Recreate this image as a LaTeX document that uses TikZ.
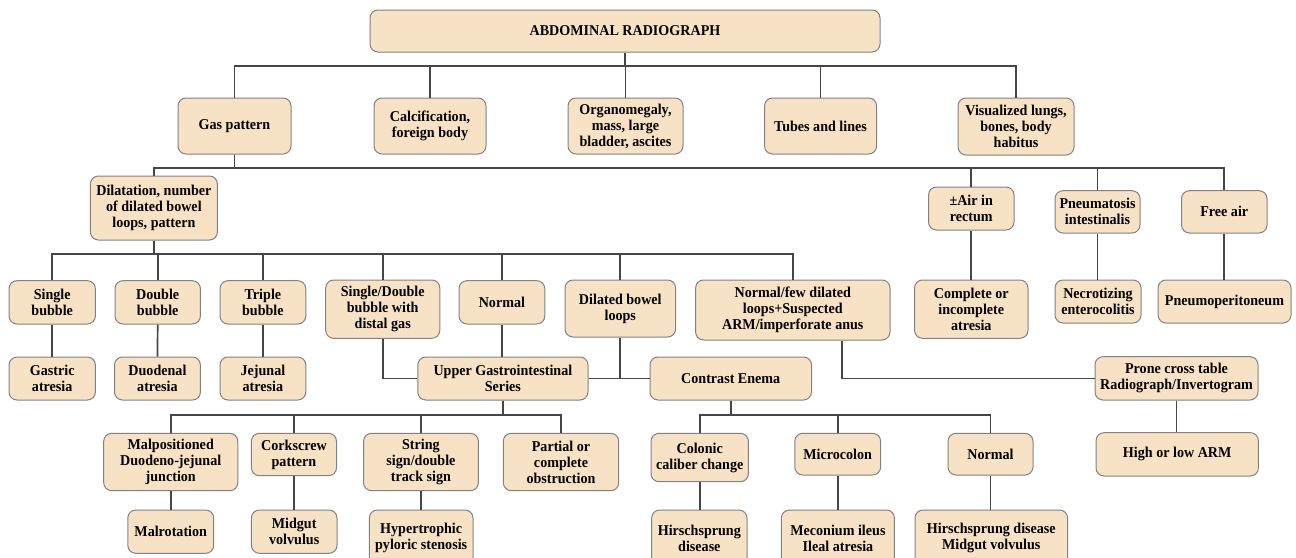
\documentclass[tikz,border=0pt]{standalone}
\usepackage{fontspec}
\setmainfont[FakeStretch=0.94]{Liberation Serif}
\definecolor{boxfill}{RGB}{248,226,198}
\definecolor{boxline}{RGB}{130,130,130}
\definecolor{conn}{RGB}{70,70,70}
\tikzset{
  box/.style={draw=boxline, fill=boxfill, rounded corners=8pt, align=center,
    inner sep=0pt, line width=1pt, font=\fontsize{15}{16}\selectfont\bfseries},
  link/.style={draw=conn, line width=1.7pt}
}
\newcommand{\mybox}[6]{%
  \node[box, minimum width={#3-#2}, minimum height={#5-#4}] (#1) at ({(#2+#3)/2},{(#4+#5)/2}) {#6};}
\begin{document}
\begin{tikzpicture}[x=1pt,y=-1pt]
\useasboundingbox (0,0) rectangle (1296,557);
\clip (0,0) rectangle (1296,557);
% bus levels
\coordinate (b1) at (0,66.3);
\coordinate (b2) at (0,168);
\coordinate (b3) at (0,254);
\coordinate (b5) at (0,414.7);
% level 0/1
\mybox{root}{370}{880}{10}{52}{ABDOMINAL RADIOGRAPH}
\mybox{gas}{178}{291}{98}{154}{Gas pattern}
\mybox{calc}{374}{486}{98}{154}{Calcification,\\foreign body}
\mybox{organ}{568}{683}{98}{154}{Organomegaly,\\mass, large\\bladder, ascites}
\mybox{tubes}{764.5}{876.6}{98}{154}{Tubes and lines}
\mybox{vis}{958}{1074}{98}{155}{Visualized lungs,\\bones, body\\habitus}
% level 2
\mybox{dil}{90.4}{217.4}{176}{240}{Dilatation, number\\of dilated bowel\\loops, pattern}
\mybox{air}{928.5}{1014}{187}{230}{±Air in\\rectum}
\mybox{pneu}{1055}{1140}{190.7}{233}{Pneumatosis\\intestinalis}
\mybox{free}{1181.5}{1267}{190.7}{233}{Free air}
% level 3
\mybox{single}{9}{95.4}{280.7}{324}{Single\\bubble}
\mybox{double}{115}{200.4}{280.7}{324}{Double\\bubble}
\mybox{triple}{220}{305.8}{280.7}{324}{Triple\\bubble}
\mybox{sdb}{325.7}{439.8}{280}{338.3}{Single/Double\\bubble with\\distal gas}
\mybox{normalA}{459}{544.8}{280.7}{324}{Normal}
\mybox{dbl}{565}{675.6}{280}{337}{Dilated bowel\\loops}
\mybox{nfd}{695.6}{890}{280}{340}{Normal/few dilated\\loops+Suspected\\ARM/imperforate anus}
\mybox{cia}{914.5}{1028}{280}{338.3}{Complete or\\incomplete\\atresia}
\mybox{nec}{1055}{1141}{280}{323}{Necrotizing\\enterocolitis}
\mybox{pneumop}{1158}{1291}{280}{323}{Pneumoperitoneum}
% level 4
\mybox{gastric}{9}{95.4}{357}{400}{Gastric\\atresia}
\mybox{duodenal}{114.5}{200.4}{357}{400}{Duodenal\\atresia}
\mybox{jejunal}{220}{305.8}{357}{400}{Jejunal\\atresia}
\mybox{ugi}{417.8}{588}{357}{400}{Upper Gastrointestinal\\Series}
\mybox{ce}{650}{811.5}{357}{400}{Contrast Enema}
\mybox{prone}{1095}{1258}{356.7}{400}{Prone cross table\\Radiograph/Invertogram}
% level 5
\mybox{mdj}{103.7}{237.8}{433.3}{490.7}{Malpositioned\\Duodeno-jejunal\\junction}
\mybox{cork}{251.4}{336.5}{433.3}{475.7}{Corkscrew\\pattern}
\mybox{string}{363.5}{478.4}{433.3}{490.7}{String\\sign/double\\track sign}
\mybox{partial}{503.3}{618.7}{433.3}{490.7}{Partial or\\complete\\obstruction}
\mybox{colonic}{651}{748.4}{433.3}{481.7}{Colonic\\caliber change}
\mybox{micro}{794.8}{880.6}{433.3}{475}{Microcolon}
\mybox{normalB}{948}{1033}{433.3}{475}{Normal}
\mybox{high}{1096}{1258.4}{432.7}{476}{High or low ARM}
% level 6
\mybox{malrot}{127.8}{213.7}{510}{553.3}{Malrotation}
\mybox{midgut}{251.4}{337}{510}{553.3}{Midgut\\volvulus}
\mybox{hps}{369.3}{473}{510}{566}{Hypertrophic\\pyloric stenosis}
\mybox{hirsch}{651.7}{747}{510}{566}{Hirschsprung\\disease}
\mybox{mec}{781.4}{894.4}{510}{566}{Meconium ileus\\Ileal atresia}
\mybox{hmv}{915}{1067.6}{510}{566}{Hirschsprung disease\\Midgut volvulus}
% connectors level 0 -> 1
\foreach \c in {gas,calc,organ,tubes,vis}
  \draw[link] (root.south) -- (root.south |- b1) -| (\c.north);
% gas -> level 2
\foreach \c in {dil,air,pneu,free}
  \draw[link] (gas.south) -- (gas.south |- b2) -| (\c.north);
% dil -> level 3
\foreach \c in {single,double,triple,sdb,normalA,dbl,nfd}
  \draw[link] (dil.south) -- (dil.south |- b3) -| (\c.north);
% vertical pairs
\draw[link] (single.south) -- (gastric.north);
\draw[link] (double.south) -- (duodenal.north);
\draw[link] (triple.south) -- (jejunal.north);
\draw[link] (air.south) -- (air.south |- cia.north);
\draw[link] (pneu.south) -- (pneu.south |- nec.north);
\draw[link] (free.south) -- (free.south |- pneumop.north);
% to UGI / CE / prone
\draw[link] (sdb.south) |- (ugi.west);
\draw[link] (normalA.south) -- (normalA.south |- ugi.north);
\draw[link] (ugi.east) -- (ce.west);
\draw[link] (dbl.south) -- (dbl.south |- ugi.east);
\coordinate (nfdout) at ([xshift=49]nfd.south);
\draw[link] (nfdout) |- (prone.west);
% UGI children
\foreach \c in {mdj,cork,string,partial}
  \draw[link] (ugi.south) -- (ugi.south |- b5) -| (\c.north);
\draw[link] (mdj.south) -- (mdj.south |- malrot.north);
\draw[link] (cork.south) -- (cork.south |- midgut.north);
\draw[link] (string.south) -- (string.south |- hps.north);
% CE children
\foreach \c in {colonic,micro,normalB}
  \draw[link] (ce.south) -- (ce.south |- b5) -| (\c.north);
\draw[link] (colonic.south) -- (colonic.south |- hirsch.north);
\draw[link] (micro.south) -- (micro.south |- mec.north);
\draw[link] (normalB.south) -- (normalB.south |- hmv.north);
\draw[link] (prone.south) -- (prone.south |- high.north);
\end{tikzpicture}
\end{document}
